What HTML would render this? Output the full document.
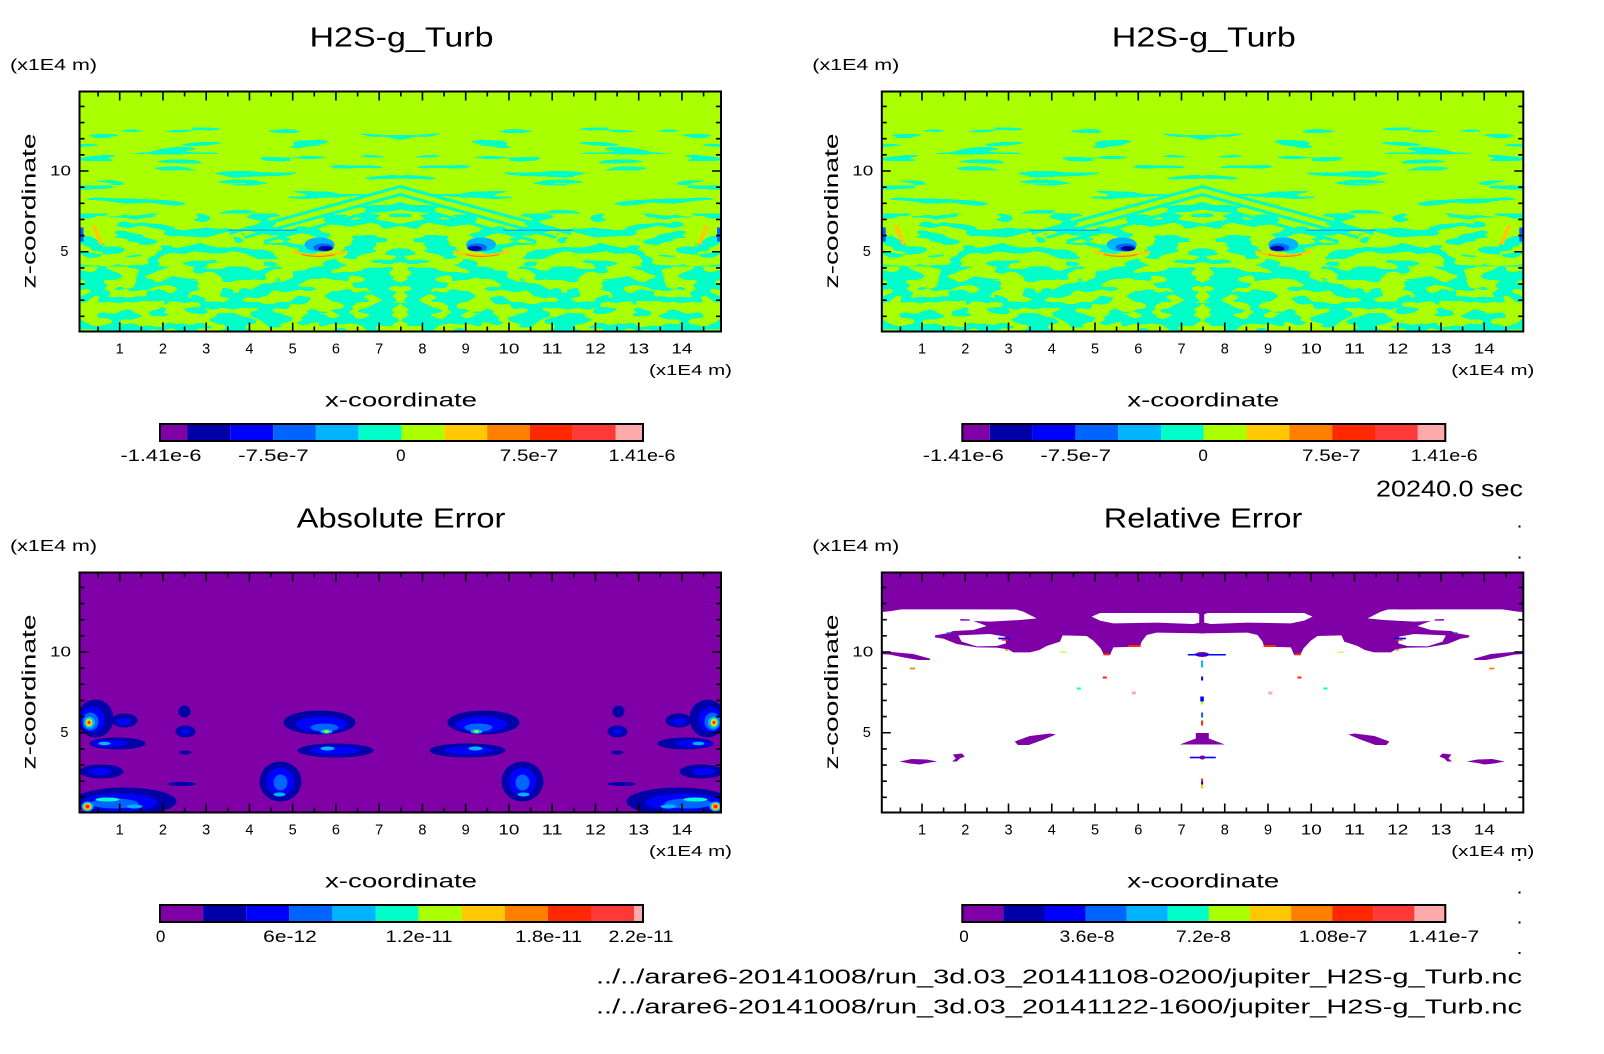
<!DOCTYPE html>
<html><head><meta charset="utf-8"><style>
html,body{margin:0;padding:0;background:#fff;}
svg{display:block;}
text{font-family:"Liberation Sans",sans-serif;fill:#000;}
</style></head><body>
<svg width="1604" height="1054" viewBox="0 0 1604 1054" xmlns="http://www.w3.org/2000/svg" xmlns:xlink="http://www.w3.org/1999/xlink">
<defs>
<clipPath id="cp"><rect x="0" y="0" width="641.5" height="240"/></clipPath>
<filter id="fA" filterUnits="userSpaceOnUse" x="0" y="36" width="322" height="86" color-interpolation-filters="sRGB">
 <feTurbulence type="fractalNoise" baseFrequency="0.015 0.14" numOctaves="2" seed="11"/>
 <feColorMatrix type="matrix" values="0 0 0 0 0  0 0 0 0 1  0 0 0 0 0.784  1 0 0 0 0"/>
 <feComponentTransfer><feFuncA type="discrete" tableValues="0 0 0 0 0 0 0 0 0 0 0 0 0 1 1 1 1 1 1 1"/></feComponentTransfer>
</filter>
<filter id="fB" filterUnits="userSpaceOnUse" x="0" y="122" width="322" height="53" color-interpolation-filters="sRGB">
 <feTurbulence type="fractalNoise" baseFrequency="0.03 0.11" numOctaves="2" seed="5"/>
 <feColorMatrix type="matrix" values="0 0 0 0 0  0 0 0 0 1  0 0 0 0 0.784  1 0 0 0 0"/>
 <feComponentTransfer><feFuncA type="discrete" tableValues="0 0 0 0 0 0 0 0 0 0 0 1 1 1 1 1 1 1 1 1"/></feComponentTransfer>
</filter>
<filter id="fC" filterUnits="userSpaceOnUse" x="0" y="175" width="322" height="65" color-interpolation-filters="sRGB">
 <feTurbulence type="fractalNoise" baseFrequency="0.035 0.09" numOctaves="2" seed="8"/>
 <feColorMatrix type="matrix" values="0 0 0 0 0  0 0 0 0 1  0 0 0 0 0.784  1 0 0 0 0"/>
 <feComponentTransfer><feFuncA type="discrete" tableValues="0 0 0 0 0 0 0 0 0 0 1 1 1 1 1 1 1 1 1 1"/></feComponentTransfer>
</filter>

<g id="topHalf">
 <rect x="0" y="36" width="322" height="86" fill="#000" filter="url(#fA)"/>
 <rect x="0" y="122" width="322" height="53" fill="#000" filter="url(#fB)"/>
 <rect x="0" y="175" width="322" height="65" fill="#000" filter="url(#fC)"/>
 <path d="M150 142 L321 95 M165 146 L321 103 M185 150 L321 112" stroke="#00FFC8" stroke-width="3" fill="none"/>
 <rect x="148" y="138" width="70" height="1.5" fill="#00B4FF"/>
 <ellipse cx="240" cy="153" rx="15" ry="7" fill="#00B4FF"/>
 <ellipse cx="244" cy="156" rx="10" ry="4" fill="#0064FF"/>
 <ellipse cx="246" cy="157" rx="7" ry="2.5" fill="#0000A8"/>
 <path d="M212 160 Q240 168 268 160" stroke="#FFC800" stroke-width="2.5" fill="none"/>
 <path d="M222 163 Q240 167 255 163" stroke="#FF8000" stroke-width="1.2" fill="none"/>
 <path d="M14 134 L22 153" stroke="#FFC800" stroke-width="4"/>
 <rect x="0" y="136" width="4" height="14" fill="#0064FF"/>
</g>
<g id="topC">
 <rect x="0" y="0" width="641.5" height="240" fill="#AAFF00"/>
 <use href="#topHalf" xlink:href="#topHalf"/>
 <use href="#topHalf" xlink:href="#topHalf" transform="translate(641.5,0) scale(-1,1)"/>
</g>

<g id="blHalf">
 <ellipse cx="16" cy="146" rx="18" ry="19" fill="#0000A8"/>
 <ellipse cx="13" cy="147" rx="12" ry="13" fill="#0000FF"/>
 <ellipse cx="11" cy="149" rx="8" ry="9" fill="#0064FF"/>
 <ellipse cx="10" cy="150" rx="5.5" ry="6" fill="#00B4FF"/>
 <ellipse cx="9.5" cy="150" rx="3.5" ry="4" fill="#AAFF00"/>
 <ellipse cx="9.5" cy="150" rx="2.5" ry="3" fill="#FFC800"/>
 <ellipse cx="9.5" cy="150" rx="1.5" ry="1.6" fill="#FF2800"/>
 <ellipse cx="45" cy="148" rx="13" ry="7" fill="#0000A8"/>
 <ellipse cx="44" cy="149" rx="7" ry="3.5" fill="#0000FF"/>
 <ellipse cx="38" cy="171" rx="28" ry="6" fill="#0000A8"/>
 <ellipse cx="30" cy="171" rx="18" ry="3.5" fill="#0000FF"/>
 <ellipse cx="25" cy="171" rx="6" ry="1.8" fill="#00B4FF"/>
 <ellipse cx="22" cy="199" rx="22" ry="7" fill="#0000A8"/>
 <ellipse cx="20" cy="199" rx="12" ry="3.5" fill="#0000FF"/>
 <ellipse cx="45" cy="229" rx="52" ry="14" fill="#0000A8"/>
 <ellipse cx="40" cy="230" rx="38" ry="9" fill="#0000FF"/>
 <ellipse cx="35" cy="231" rx="24" ry="5" fill="#0064FF"/>
 <ellipse cx="28" cy="227" rx="12" ry="2" fill="#00FFC8"/>
 <ellipse cx="55" cy="234" rx="8" ry="2" fill="#00B4FF"/>
 <ellipse cx="8" cy="234" rx="6" ry="5" fill="#00B4FF"/>
 <ellipse cx="8" cy="234" rx="4" ry="3.5" fill="#FFC800"/>
 <ellipse cx="8" cy="234" rx="2.2" ry="2" fill="#FF2800"/>
 <ellipse cx="105" cy="139" rx="6" ry="6" fill="#0000A8"/>
 <ellipse cx="106" cy="159" rx="10" ry="6" fill="#0000A8"/>
 <ellipse cx="106" cy="159" rx="5" ry="3" fill="#0000FF"/>
 <ellipse cx="106" cy="180" rx="6" ry="2" fill="#0000A8"/>
 <ellipse cx="102" cy="211.5" rx="14" ry="2" fill="#0000A8"/>
 <ellipse cx="240" cy="150" rx="36" ry="12" fill="#0000A8"/>
 <ellipse cx="242" cy="152" rx="26" ry="8" fill="#0000FF"/>
 <ellipse cx="245" cy="155" rx="14" ry="4" fill="#0064FF"/>
 <ellipse cx="247" cy="159" rx="6" ry="2.2" fill="#00B4FF"/>
 <ellipse cx="247" cy="159" rx="2.5" ry="1.2" fill="#AAFF00"/>
 <ellipse cx="256" cy="178" rx="38" ry="7" fill="#0000A8"/>
 <ellipse cx="255" cy="178" rx="25" ry="4" fill="#0000FF"/>
 <ellipse cx="248" cy="176" rx="7" ry="2" fill="#00B4FF"/>
 <ellipse cx="201" cy="209" rx="21" ry="20" fill="#0000A8"/>
 <ellipse cx="201" cy="209" rx="14" ry="14" fill="#0000FF"/>
 <ellipse cx="201" cy="210" rx="7" ry="8" fill="#0064FF"/>
 <ellipse cx="200" cy="222" rx="6" ry="2" fill="#00B4FF"/>
</g>
<g id="blC">
 <rect x="0" y="0" width="641.5" height="240" fill="#8000A8"/>
 <use href="#blHalf" xlink:href="#blHalf"/>
 <use href="#blHalf" xlink:href="#blHalf" transform="translate(644,0) scale(-1,1)"/>
</g>

<g id="brHalf">
 <g transform="translate(-1.8,-2.5) scale(0.33333)">
  <polygon fill="#8000A8" points="0,-10 975,-10 975,120 270,118 65,118 40,122 20,125 0,126"/>
  <polygon fill="#8000A8" points="400,116 975,116 975,190 830,188 800,195 785,215 780,230 700,232 690,255 672,255 662,235 640,212 620,198 548,196 540,215 500,228 478,240 450,247 400,247 385,238 350,233 290,232 230,222 190,206 165,202 165,196 200,190 220,183 280,180 320,168 300,160 280,153 330,155 420,150 470,145 430,125"/>
  <polygon fill="#fff" points="635,140 660,129 950,129 960,133 960,158 940,162 830,158 700,160 660,152"/>
  <polygon fill="#fff" points="235,196 330,192 375,200 378,220 350,228 290,229 245,215"/>
  <polygon fill="#8000A8" points="0,244 35,246 100,252 150,266 150,270 115,270 70,262 30,254 0,252"/>
  <polygon fill="#8000A8" points="240,147 268,148 270,152 242,152"/>
  <rect x="745" y="225" width="37" height="6" fill="#FF2800"/>
  <rect x="355" y="203" width="35" height="5" fill="#0000FF"/>
  <rect x="365" y="208" width="20" height="4" fill="#FF2800"/>
  <rect x="375" y="238" width="10" height="4" fill="#FF8000"/>
  <rect x="540" y="245" width="20" height="3" fill="#AAFF00"/>
  <rect x="670" y="250" width="18" height="6" fill="#FF2800"/>
  <rect x="200" y="186" width="12" height="4" fill="#00B4FF"/>
  <rect x="90" y="293" width="15" height="5" fill="#FF8000"/>
 </g>
 <polygon fill="#8000A8" points="133,169 148,163.5 168,161 174,162 162,167 147,172.5 136,172.5"/>
 <polygon fill="#8000A8" points="17.7,189 30,186.5 45,187 55.5,189 45,190.5 38,192 28,191"/>
 <polygon fill="#8000A8" points="71,182 80,181 83,184 78,186 75,189 70.3,189 74,186"/>
 <rect x="195" y="115" width="4" height="2" fill="#00FFC8"/>
 <rect x="221" y="104" width="4" height="2" fill="#FF2800"/>
 <rect x="250" y="119" width="4" height="3" fill="#FFAAAA"/>
</g>
<g id="brC">
 <rect x="0" y="0" width="641.5" height="240" fill="#fff"/>
 <use href="#brHalf" xlink:href="#brHalf"/>
 <use href="#brHalf" xlink:href="#brHalf" transform="translate(640.6,0) scale(-1,1)"/>
 <ellipse cx="320.3" cy="82" rx="7" ry="2.5" fill="#8000A8"/>
 <rect x="306" y="81.5" width="38" height="1.5" fill="#0000FF"/>
 <rect x="319.3" y="88" width="2" height="7" fill="#00B4FF"/>
 <rect x="319.3" y="104" width="2" height="4" fill="#0000FF"/>
 <rect x="318.5" y="124" width="3.5" height="5" fill="#0000FF"/>
 <rect x="319.3" y="129" width="2" height="3" fill="#AAFF00"/>
 <rect x="319.3" y="140" width="2" height="5" fill="#0064FF"/>
 <rect x="319.3" y="148" width="2" height="5" fill="#FF2800"/>
 <polygon fill="#8000A8" points="314,160.5 327,160.5 327,166 343,172 298,172 314,166"/>
 <rect x="308" y="184.2" width="26" height="1.6" fill="#0000FF"/>
 <ellipse cx="320.5" cy="185" rx="3" ry="2" fill="#8000A8"/>
 <rect x="319.3" y="206" width="2" height="3" fill="#FF2800"/>
 <rect x="319.3" y="209" width="2" height="3" fill="#0000FF"/>
 <rect x="319.3" y="212" width="2" height="4" fill="#FFC800"/>
</g>

<g id="axes">
 <rect x="0" y="0" width="641.5" height="240" fill="none" stroke="#000" stroke-width="2"/>
 <path fill="none" stroke="#000" stroke-width="1.6" d="M40.2 240v-9M83.45 240v-9M126.7 240v-9M169.95 240v-9M213.2 240v-9M256.45 240v-9M299.7 240v-9M342.95 240v-9M386.2 240v-9M429.45 240v-9M472.7 240v-9M515.95 240v-9M559.2 240v-9M602.45 240v-9
 M40.2 0v9M83.45 0v9M126.7 0v9M169.95 0v9M213.2 0v9M256.45 0v9M299.7 0v9M342.95 0v9M386.2 0v9M429.45 0v9M472.7 0v9M515.95 0v9M559.2 0v9M602.45 0v9
 M18.6 240v-5M61.8 240v-5M105.1 240v-5M148.3 240v-5M191.6 240v-5M234.8 240v-5M278.1 240v-5M321.3 240v-5M364.6 240v-5M407.8 240v-5M451.1 240v-5M494.3 240v-5M537.6 240v-5M580.8 240v-5M624.1 240v-5
 M18.6 0v5M61.8 0v5M105.1 0v5M148.3 0v5M191.6 0v5M234.8 0v5M278.1 0v5M321.3 0v5M364.6 0v5M407.8 0v5M451.1 0v5M494.3 0v5M537.6 0v5M580.8 0v5M624.1 0v5
 M0 14.9h5M0 31.05h5M0 47.2h5M0 63.35h5M0 79.5h9M0 95.65h5M0 111.8h5M0 127.95h5M0 144.1h5M0 160.25h9M0 176.4h5M0 192.55h5M0 208.7h5M0 224.85h5
 M641.5 14.9h-5M641.5 31.05h-5M641.5 47.2h-5M641.5 63.35h-5M641.5 79.5h-9M641.5 95.65h-5M641.5 111.8h-5M641.5 127.95h-5M641.5 144.1h-5M641.5 160.25h-9M641.5 176.4h-5M641.5 192.55h-5M641.5 208.7h-5M641.5 224.85h-5"/>
 <text font-size="16" x="-69.5" y="-21.5" textLength="87" lengthAdjust="spacingAndGlyphs">(x1E4 m)</text>
 <text font-size="19" transform="translate(-44,197) rotate(-90)" x="0" y="0" textLength="155" lengthAdjust="spacingAndGlyphs">z-coordinate</text>
 <text font-size="14.5" x="-29.5" y="84" textLength="21" lengthAdjust="spacingAndGlyphs">10</text>
 <text font-size="14.5" text-anchor="end" x="-11" y="164.5">5</text>
 <g font-size="14.5" text-anchor="middle">
  <text x="40.2" y="261.8">1</text>
  <text x="83.45" y="261.8">2</text>
  <text x="126.7" y="261.8">3</text>
  <text x="169.95" y="261.8">4</text>
  <text x="213.2" y="261.8">5</text>
  <text x="256.45" y="261.8">6</text>
  <text x="299.7" y="261.8">7</text>
  <text x="342.95" y="261.8">8</text>
  <text x="386.2" y="261.8">9</text>
 </g>
 <g font-size="14.5">
  <text x="418.95" y="261.8" textLength="21" lengthAdjust="spacingAndGlyphs">10</text>
  <text x="462.2" y="261.8" textLength="21" lengthAdjust="spacingAndGlyphs">11</text>
  <text x="505.45" y="261.8" textLength="21" lengthAdjust="spacingAndGlyphs">12</text>
  <text x="548.7" y="261.8" textLength="21" lengthAdjust="spacingAndGlyphs">13</text>
  <text x="591.95" y="261.8" textLength="21" lengthAdjust="spacingAndGlyphs">14</text>
 </g>
 <text font-size="15" x="569.5" y="283.5" textLength="83" lengthAdjust="spacingAndGlyphs">(x1E4 m)</text>
 <text font-size="19" x="245.5" y="315.2" textLength="152" lengthAdjust="spacingAndGlyphs">x-coordinate</text>
 <rect x="80.5" y="332.5" width="483" height="17" fill="none" stroke="#000" stroke-width="2"/>
</g>

<g id="cbTop">
 <rect x="80.5" y="332.5" width="27.5" height="17" fill="#8000A8"/>
 <rect x="108" y="332.5" width="42.8" height="17" fill="#0000A8"/>
 <rect x="150.8" y="332.5" width="42.8" height="17" fill="#0000FF"/>
 <rect x="193.6" y="332.5" width="42.8" height="17" fill="#0064FF"/>
 <rect x="236.4" y="332.5" width="42.8" height="17" fill="#00B4FF"/>
 <rect x="279.2" y="332.5" width="42.8" height="17" fill="#00FFC8"/>
 <rect x="322" y="332.5" width="42.8" height="17" fill="#AAFF00"/>
 <rect x="364.8" y="332.5" width="42.8" height="17" fill="#FFC800"/>
 <rect x="407.6" y="332.5" width="42.8" height="17" fill="#FF8000"/>
 <rect x="450.4" y="332.5" width="42.8" height="17" fill="#FF2800"/>
 <rect x="493.2" y="332.5" width="42.8" height="17" fill="#FF3838"/>
 <rect x="536" y="332.5" width="27.5" height="17" fill="#FFAAAA"/>
 <g font-size="17">
  <text x="41" y="369.5" textLength="81" lengthAdjust="spacingAndGlyphs">-1.41e-6</text>
  <text x="158.6" y="369.5" textLength="70.6" lengthAdjust="spacingAndGlyphs">-7.5e-7</text>
  <text x="321.3" y="369.5" text-anchor="middle">0</text>
  <text x="420.25" y="369.5" textLength="58.5" lengthAdjust="spacingAndGlyphs">7.5e-7</text>
  <text x="529" y="369.5" textLength="67" lengthAdjust="spacingAndGlyphs">1.41e-6</text>
 </g>
</g>
</defs>

<rect x="0" y="0" width="1604" height="1054" fill="#fff"/>

<!-- Top-left -->
<g transform="translate(79.5,91.5)">
 <g clip-path="url(#cp)"><use href="#topC" xlink:href="#topC"/></g>
 <use href="#cbTop" xlink:href="#cbTop"/>
 <use href="#axes" xlink:href="#axes"/>
</g>
<!-- Top-right -->
<g transform="translate(881.8,91.5)">
 <g clip-path="url(#cp)"><use href="#topC" xlink:href="#topC"/></g>
 <use href="#cbTop" xlink:href="#cbTop"/>
 <use href="#axes" xlink:href="#axes"/>
</g>
<!-- Bottom-left -->
<g transform="translate(79.5,572.5)">
 <g clip-path="url(#cp)"><use href="#blC" xlink:href="#blC"/></g>
 <rect x="80.5" y="332.5" width="43.1" height="17" fill="#8000A8"/>
 <rect x="123.6" y="332.5" width="43.1" height="17" fill="#0000A8"/>
 <rect x="166.7" y="332.5" width="43.1" height="17" fill="#0000FF"/>
 <rect x="209.8" y="332.5" width="43.1" height="17" fill="#0064FF"/>
 <rect x="252.9" y="332.5" width="43.1" height="17" fill="#00B4FF"/>
 <rect x="296" y="332.5" width="43.1" height="17" fill="#00FFC8"/>
 <rect x="339.1" y="332.5" width="43.1" height="17" fill="#AAFF00"/>
 <rect x="382.2" y="332.5" width="43.1" height="17" fill="#FFC800"/>
 <rect x="425.3" y="332.5" width="43.1" height="17" fill="#FF8000"/>
 <rect x="468.4" y="332.5" width="43.1" height="17" fill="#FF2800"/>
 <rect x="511.5" y="332.5" width="43.1" height="17" fill="#FF3838"/>
 <rect x="554.6" y="332.5" width="8.9" height="17" fill="#FFAAAA"/>
 <g font-size="17">
  <text x="81.1" y="369.5" text-anchor="middle">0</text>
  <text x="183.7" y="369.5" textLength="53.6" lengthAdjust="spacingAndGlyphs">6e-12</text>
  <text x="306" y="369.5" textLength="67" lengthAdjust="spacingAndGlyphs">1.2e-11</text>
  <text x="435.6" y="369.5" textLength="67" lengthAdjust="spacingAndGlyphs">1.8e-11</text>
  <text x="529" y="369.5" textLength="65" lengthAdjust="spacingAndGlyphs">2.2e-11</text>
 </g>
 <use href="#axes" xlink:href="#axes"/>
</g>
<!-- Bottom-right -->
<g transform="translate(881.8,572.5)">
 <g clip-path="url(#cp)"><use href="#brC" xlink:href="#brC"/></g>
 <rect x="80.5" y="332.5" width="41.1" height="17" fill="#8000A8"/>
 <rect x="121.6" y="332.5" width="41.1" height="17" fill="#0000A8"/>
 <rect x="162.7" y="332.5" width="41.1" height="17" fill="#0000FF"/>
 <rect x="203.8" y="332.5" width="41.1" height="17" fill="#0064FF"/>
 <rect x="244.9" y="332.5" width="41.1" height="17" fill="#00B4FF"/>
 <rect x="286" y="332.5" width="41.1" height="17" fill="#00FFC8"/>
 <rect x="327.1" y="332.5" width="41.1" height="17" fill="#AAFF00"/>
 <rect x="368.2" y="332.5" width="41.1" height="17" fill="#FFC800"/>
 <rect x="409.3" y="332.5" width="41.1" height="17" fill="#FF8000"/>
 <rect x="450.4" y="332.5" width="41.1" height="17" fill="#FF2800"/>
 <rect x="491.5" y="332.5" width="41.1" height="17" fill="#FF3838"/>
 <rect x="532.6" y="332.5" width="30.9" height="17" fill="#FFAAAA"/>
 <g font-size="17">
  <text x="82.2" y="369.5" text-anchor="middle">0</text>
  <text x="177.7" y="369.5" textLength="55" lengthAdjust="spacingAndGlyphs">3.6e-8</text>
  <text x="294.1" y="369.5" textLength="55" lengthAdjust="spacingAndGlyphs">7.2e-8</text>
  <text x="416.85" y="369.5" textLength="68.7" lengthAdjust="spacingAndGlyphs">1.08e-7</text>
  <text x="526.3" y="369.5" textLength="71" lengthAdjust="spacingAndGlyphs">1.41e-7</text>
 </g>
 <use href="#axes" xlink:href="#axes"/>
</g>

<!-- Titles -->
<text font-size="28" x="309.5" y="46.7" textLength="184" lengthAdjust="spacingAndGlyphs">H2S-g_Turb</text>
<text font-size="28" x="1111.8" y="46.7" textLength="184" lengthAdjust="spacingAndGlyphs">H2S-g_Turb</text>
<text font-size="28" x="296.7" y="527.7" textLength="208.7" lengthAdjust="spacingAndGlyphs">Absolute Error</text>
<text font-size="28" x="1103.8" y="527.7" textLength="198.5" lengthAdjust="spacingAndGlyphs">Relative Error</text>
<text font-size="23" x="1376" y="496.7" textLength="147" lengthAdjust="spacingAndGlyphs">20240.0 sec</text>
<text font-size="20" x="596" y="983.5" textLength="926" lengthAdjust="spacingAndGlyphs">../../arare6-20141008/run_3d.03_20141108-0200/jupiter_H2S-g_Turb.nc</text>
<text font-size="20" x="596" y="1013.5" textLength="926" lengthAdjust="spacingAndGlyphs">../../arare6-20141008/run_3d.03_20141122-1600/jupiter_H2S-g_Turb.nc</text>

<!-- small dots on right edge -->
<g fill="#000">
 <rect x="1518.5" y="525.5" width="2" height="2"/>
 <rect x="1518.5" y="556.5" width="2" height="2"/>
 <rect x="1518.5" y="848" width="2" height="2"/>
 <rect x="1518.5" y="859" width="2" height="2"/>
 <rect x="1518.5" y="891.5" width="2" height="2"/>
 <rect x="1518.5" y="921.5" width="2" height="2"/>
 <rect x="1518.5" y="952" width="2" height="2"/>
</g>
</svg>
</body></html>
